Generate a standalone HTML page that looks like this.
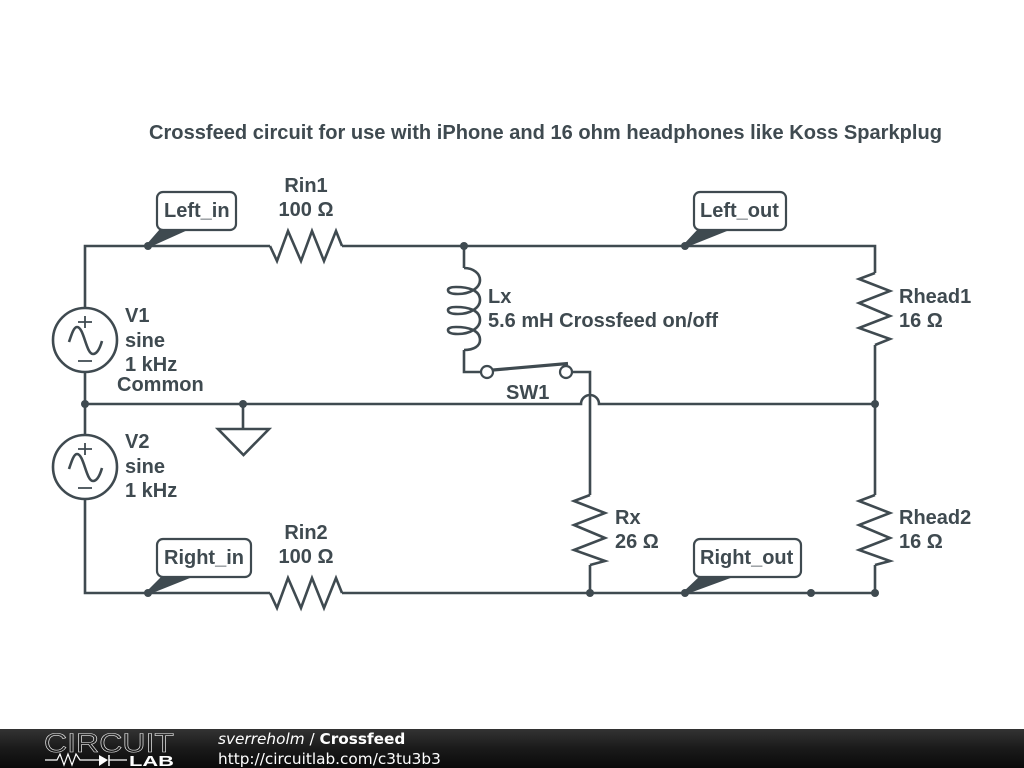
<!DOCTYPE html>
<html>
<head>
<meta charset="utf-8">
<style>
html,body{margin:0;padding:0;background:#fff;width:1024px;height:768px;overflow:hidden}
svg{display:block;position:absolute;left:0;top:0}
.w{fill:none;stroke:#3f4a50;stroke-width:2.6;stroke-linejoin:miter}
.t{font-family:"Liberation Sans",sans-serif;font-weight:bold;font-size:20px;fill:#3f4a50}
.d{fill:#3f4a50}
.b{fill:#fff;stroke:#3f4a50;stroke-width:2.2}
.f{font-family:"DejaVu Sans",sans-serif;font-size:15.3px;fill:#fff}
</style>
</head>
<body>
<svg width="1024" height="768" viewBox="0 0 1024 768" xmlns="http://www.w3.org/2000/svg">
<defs>
<linearGradient id="g" x1="0" y1="0" x2="0" y2="1">
<stop offset="0" stop-color="#333"/><stop offset="0.5" stop-color="#1a1a1a"/><stop offset="1" stop-color="#0a0a0a"/>
</linearGradient>
<g id="sv">
<circle cx="0" cy="0" r="32" class="w"/>
<path class="w" style="stroke-width:1.8" d="M0,-24V-12M-7,-18H7M-7,21H7"/>
<path class="w" d="M-16,2C-13,-7 -11,-13 -8,-13C-1,-13 1,14 8,14C12,14 15,8 17,1"/>
</g>
</defs>
<text x="149" y="139" class="t" textLength="793" lengthAdjust="spacingAndGlyphs">Crossfeed circuit for use with iPhone and 16 ohm headphones like Koss Sparkplug</text>

<!-- Wires -->
<path class="w" d="M85,308V246H270M342,246H875V273M875,345V495M875,565V593H342M270,593H85V499M85,435V372"/>
<path class="w" d="M85,404H581A9,9 0 0 1 599,404H875"/>
<path class="w" d="M464,246V268M464,350V372H481M572,372H590V495M590,565V593"/>
<path class="w" d="M243,404V429"/>
<path class="w" d="M218,429H269L243.500,455Z"/>

<!-- Resistors -->
<path class="w" d="M270,246L277,261L288,231L301,261L312,231L324,261L336,231L342,246"/>
<path class="w" d="M270,593L277,608L288,578L301,608L312,578L324,608L336,578L342,593"/>
<path class="w" d="M875,273L859,279L890,291L859,303L890,316L859,328L890,339L875,345"/>
<path class="w" d="M875,495L859,501L890,513L859,525L890,538L859,550L890,561L875,565"/>
<path class="w" d="M590,495L574,501L605,513L574,525L605,538L574,550L605,561L590,565"/>

<!-- Sources -->
<use href="#sv" x="85" y="340"/>
<use href="#sv" x="85" y="467"/>

<!-- Inductor -->
<path class="w" d="M464,268C474,268 480,274 480,280C480,288 470,294 458,294C450,294 448,292 448,290C448,288 451,287 456,287C468,287 480,290 480,300C480,308 470,314 458,314C450,314 448,312 448,310C448,308 451,307 456,307C468,307 480,310 480,320C480,328 470,334 458,334C450,334 448,332 448,330C448,328 451,327 456,327C468,327 480,330 480,340C480,346 474,350 464,350"/>

<!-- Switch -->
<path class="w" style="stroke-width:3.2" d="M493,370L568,363.500"/>
<circle cx="487" cy="372" r="6" class="b"/>
<circle cx="566" cy="372" r="6" class="b"/>

<!-- Junctions -->
<g class="d">
<circle cx="148" cy="246" r="4"/><circle cx="464" cy="246" r="4"/><circle cx="685" cy="246" r="4"/>
<circle cx="85" cy="404" r="4"/><circle cx="243" cy="404" r="4"/><circle cx="875" cy="404" r="4"/>
<circle cx="148" cy="593" r="4"/><circle cx="590" cy="593" r="4"/><circle cx="685" cy="593" r="4"/>
<circle cx="811" cy="593" r="4"/><circle cx="875" cy="593" r="4"/>
<path d="M146,245L160,229H190L150,247Z"/>
<path d="M146,592L162,576H195L150,594Z"/>
<path d="M683,245L698,229H732L687,247Z"/>
<path d="M683,592L700,576H736L687,594Z"/>
</g>

<!-- Net labels -->
<rect x="157" y="192" width="79" height="38" rx="6" class="b"/>
<rect x="157" y="539" width="94" height="38" rx="6" class="b"/>
<rect x="694" y="192" width="92" height="38" rx="6" class="b"/>
<rect x="694" y="539" width="107" height="38" rx="6" class="b"/>
<text x="164" y="217" class="t">Left_in</text>
<text x="164" y="564" class="t">Right_in</text>
<text x="700" y="217" class="t">Left_out</text>
<text x="700" y="564" class="t">Right_out</text>

<!-- Component labels -->
<text x="306" y="192" class="t" text-anchor="middle">Rin1</text>
<text x="306" y="216" class="t" text-anchor="middle">100 Ω</text>
<text x="306" y="539" class="t" text-anchor="middle">Rin2</text>
<text x="306" y="563" class="t" text-anchor="middle">100 Ω</text>
<text x="125" y="322" class="t">V1</text>
<text x="125" y="347" class="t">sine</text>
<text x="125" y="371" class="t">1 kHz</text>
<text x="117" y="391" class="t">Common</text>
<text x="125" y="448" class="t">V2</text>
<text x="125" y="473" class="t">sine</text>
<text x="125" y="497" class="t">1 kHz</text>
<text x="488" y="303" class="t">Lx</text>
<text x="488" y="327" class="t">5.6 mH Crossfeed on/off</text>
<text x="506" y="399" class="t">SW1</text>
<text x="899" y="303" class="t">Rhead1</text>
<text x="899" y="327" class="t">16 Ω</text>
<text x="899" y="524" class="t">Rhead2</text>
<text x="899" y="548" class="t">16 Ω</text>
<text x="615" y="524" class="t">Rx</text>
<text x="615" y="548" class="t">26 Ω</text>

<!-- Footer -->
<rect x="0" y="729" width="1024" height="39" fill="url(#g)"/>
<text x="44" y="752" font-family="Liberation Sans,sans-serif" font-size="27" fill="none" stroke="#e8e8e8" stroke-width="0.6" textLength="130" lengthAdjust="spacingAndGlyphs">CIRCUIT</text>
<path d="M45,760H57L60,754L64,765L68,754L72,765L76,754L80,760H99M109,760H127" fill="none" stroke="#fff" stroke-width="1.200"/>
<path d="M99,755L108,760L99,766Z" fill="#fff"/>
<path d="M109,755V766" stroke="#fff" stroke-width="1.500"/>
<text x="129" y="766" font-family="Liberation Sans,sans-serif" font-size="14.500" font-weight="bold" fill="#fff" textLength="45" lengthAdjust="spacingAndGlyphs">LAB</text>
<text x="218" y="744" class="f"><tspan font-style="italic">sverreholm</tspan> / <tspan font-weight="bold">Crossfeed</tspan></text>
<text x="218" y="764" class="f">http://circuitlab.com/c3tu3b3</text>
</svg>
</body>
</html>
